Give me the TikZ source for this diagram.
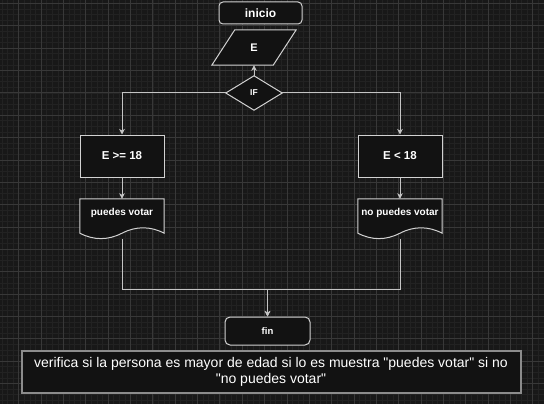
\documentclass[tikz,border=0pt]{standalone}
\usepackage{fontspec}
\setmainfont{Liberation Sans}
\usetikzlibrary{arrows.meta,calc}
\definecolor{bgc}{HTML}{181818}
\definecolor{minorc}{HTML}{222222}
\definecolor{majorc}{HTML}{383838}
\definecolor{nodefill}{HTML}{121212}
\definecolor{strokec}{HTML}{D2D2D2}
\definecolor{linec}{HTML}{C4C4C4}
\definecolor{notec}{HTML}{8C8C8C}
\tikzset{
  box/.style={draw=strokec, fill=nodefill, line width=1pt, text=white, inner sep=0pt},
  ghost/.style={draw=none, inner sep=0pt, text=white},
  outl/.style={draw=strokec, fill=nodefill, line width=1pt},
  conn/.style={draw=linec, line width=1pt, -{Stealth[length=5.5pt,width=5.5pt,inset=1.5pt]}},
  bt/.style={font=\fontsize{10}{12}\selectfont\bfseries},
}
\newcommand\drawdoc[1]{%
  \draw[outl] (#1.north west) -- (#1.north east) -- ([yshift=6pt]#1.south east)
   .. controls ([xshift=-14pt,yshift=13.2pt]#1.south east) and ([xshift=14pt,yshift=13.2pt]#1.south) .. ([yshift=6pt]#1.south)
   .. controls ([xshift=-14pt,yshift=-1.2pt]#1.south) and ([xshift=14pt,yshift=-1.2pt]#1.south west) .. ([yshift=6pt]#1.south west) -- cycle;}
\begin{document}
\begin{tikzpicture}[x=1pt,y=-1pt]
% background and grid
\fill[bgc] (0,0) rectangle (544,404);
\useasboundingbox (0,0) rectangle (544,404);
\begin{scope}
\clip (0,0) rectangle (544,404);
\foreach \i in {-4,...,100} {
  \draw[minorc, line width=0.6pt] ({18.7+\i*5.5875},0) -- ({18.7+\i*5.5875},404);
  \draw[minorc, line width=0.6pt] (0,{25.8+\i*5.5875}) -- (544,{25.8+\i*5.5875});
}
\foreach \i in {-1,...,24} {
  \draw[majorc, line width=0.8pt] ({18.7+\i*22.35},0) -- ({18.7+\i*22.35},404);
  \draw[majorc, line width=0.8pt] (0,{25.8+\i*22.35}) -- (544,{25.8+\i*22.35});
}
\end{scope}

% nodes
\node[box, rounded corners=4pt, minimum width=83pt, minimum height=22pt,
      font=\fontsize{12}{14}\selectfont\bfseries] (inicio) at (260.5,13) {inicio};

\node[ghost, minimum width=84pt, minimum height=35pt] (E) at (254,47.5) {};
\draw[outl] ([xshift=23pt]E.north west) -- (E.north east) -- ([xshift=-23pt]E.south east) -- (E.south west) -- cycle;
\node[ghost, font=\fontsize{11}{13}\selectfont\bfseries] at (E.center) {E};

\node[ghost, minimum width=56pt, minimum height=34pt] (IF) at (254,93) {};
\draw[outl] (IF.north) -- (IF.east) -- (IF.south) -- (IF.west) -- cycle;
\node[ghost, font=\fontsize{8.5}{10}\selectfont\bfseries] at (IF.center) {IF};

\node[box, minimum width=84pt, minimum height=42pt, font=\fontsize{11.5}{13}\selectfont\bfseries] (L) at (122,156) {E >= 18};
\node[box, minimum width=84pt, minimum height=42pt, font=\fontsize{11.5}{13}\selectfont\bfseries] (R) at (400,156) {E < 18};

\node[ghost, minimum width=84pt, minimum height=40pt] (LD) at (122,219) {};
\drawdoc{LD}
\node[ghost, bt] at ([yshift=6pt]LD.center) {puedes votar};
\node[ghost, minimum width=84pt, minimum height=40pt] (RD) at (400,219) {};
\drawdoc{RD}
\node[ghost, bt] at ([yshift=6pt]RD.center) {no puedes votar};

\node[box, rounded corners=5pt, minimum width=85pt, minimum height=28pt,
      font=\fontsize{9.5}{11}\selectfont\bfseries] (fin) at (267.5,331) {fin};

\node[draw=notec, fill=nodefill, line width=2pt, minimum width=499pt, minimum height=42pt,
      inner sep=0pt, text=white, align=center, font=\fontsize{14}{16.5}\selectfont] (note) at (271,372)
  {verifica si la persona es mayor de edad si lo es muestra \textquotedbl puedes votar\textquotedbl{} si no\\\textquotedbl no puedes votar\textquotedbl};

% connectors
\draw[conn] (IF.north) -- (E.south);
\draw[conn] (IF.west) -| (L.north);
\draw[conn] (IF.east) -| (R.north);
\draw[conn] (L.south) -- (LD.north);
\draw[conn] (R.south) -- (RD.north);
\coordinate (J) at (267.5,289);
\draw[conn] (LD.south) |- (J) -- (fin.north);
\draw[conn] (RD.south) |- (J) -- (fin.north);
\end{tikzpicture}
\end{document}
